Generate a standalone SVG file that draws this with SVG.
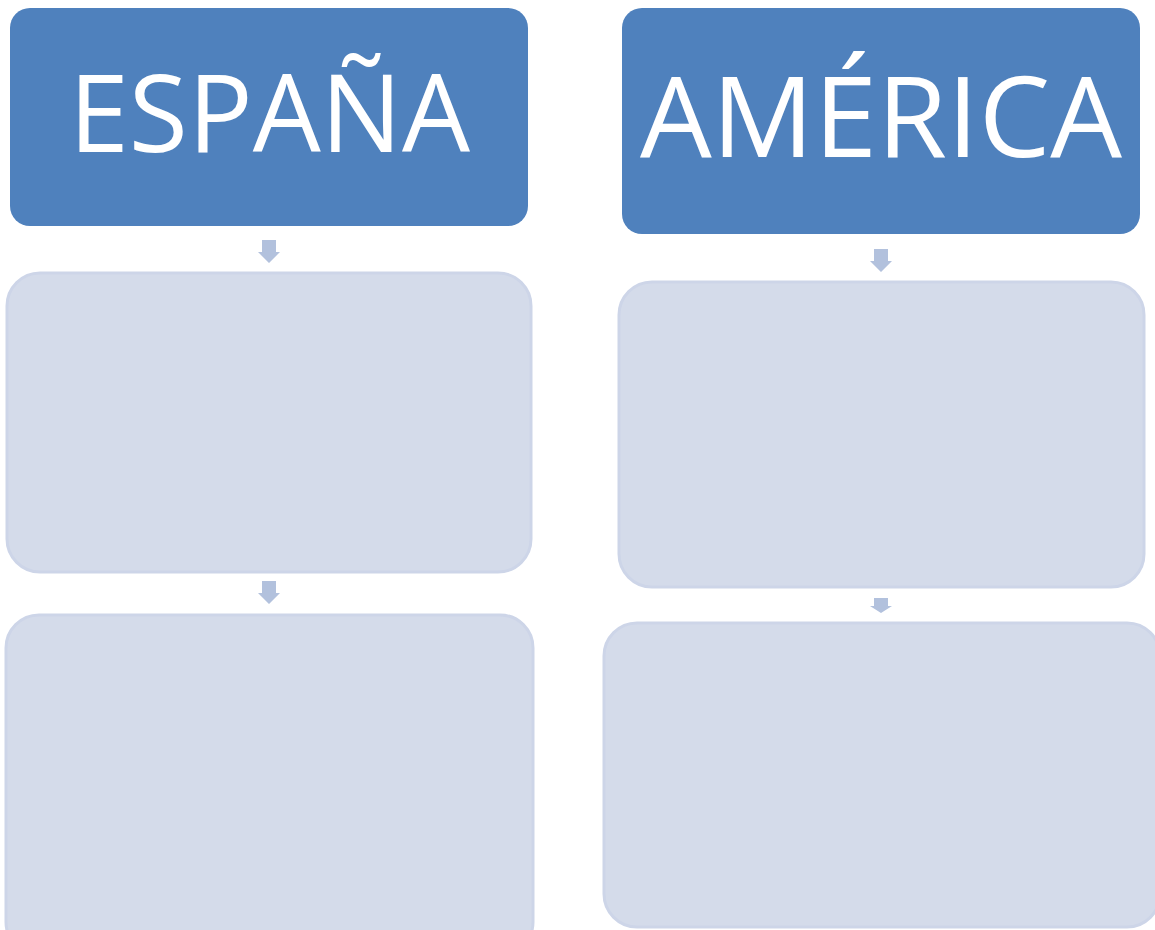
<svg xmlns="http://www.w3.org/2000/svg" width="1155" height="930" viewBox="0 0 1155 930">
<style>
.head{fill:#4F81BD}
.body{fill:#D4DBEA;stroke:#CDD5E8;stroke-width:3}
.title{fill:#FFFFFF;font-family:"Open Sans","Liberation Sans",sans-serif}
.arrow{fill:#B2C1DD}
</style>
<rect width="1155" height="930" fill="#FFFFFF"/>
<g id="espana">
<rect class="head" x="10" y="8" width="518" height="218" rx="20"/>
<text class="title" x="69" y="152" font-size="108" textLength="401" lengthAdjust="spacingAndGlyphs">ESPAÑA</text>
</g>
<g id="espana-box1"><rect class="body" x="7" y="273" width="524" height="299" rx="33"/></g>
<g id="espana-box2"><rect class="body" x="6" y="615" width="527" height="340" rx="33"/></g>
<g id="america">
<rect class="head" x="622" y="8" width="518" height="226" rx="20"/>
<text class="title" x="640" y="157" font-size="112" textLength="482" lengthAdjust="spacingAndGlyphs">AMÉRICA</text>
</g>
<g id="america-box1"><rect class="body" x="619" y="282" width="525" height="305" rx="33"/></g>
<g id="america-box2"><rect class="body" x="604" y="623" width="556" height="304" rx="33"/></g>
<g id="connectors">
<path class="arrow" d="M262 240H276V252H280L269 263L258 252H262Z"/>
<path class="arrow" d="M262 581H276V593H280L269 604L258 593H262Z"/>
<path class="arrow" d="M874 249H888V261H892L881 272L870 261H874Z"/>
<path class="arrow" d="M874 598H888V606H892L881 613L870 606H874Z"/>
</g>
</svg>
